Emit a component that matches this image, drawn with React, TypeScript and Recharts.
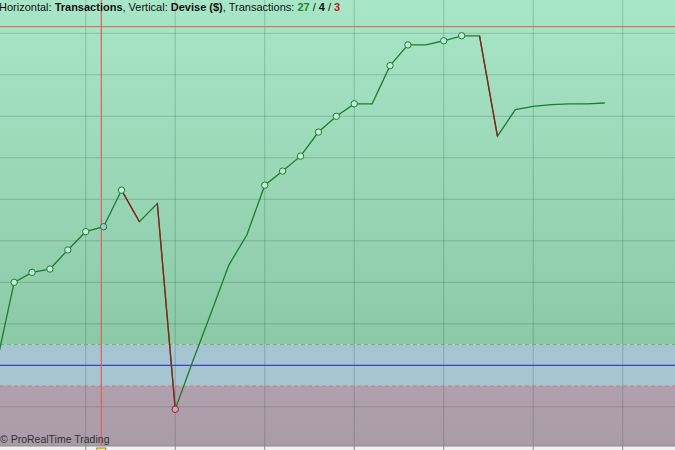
import { ComposedChart, Line, XAxis, YAxis, ReferenceLine, ReferenceArea, ReferenceDot } from 'recharts'

// transaction number on the horizontal axis
const trades = [0, 1, 2, 3, 4, 5, 6, 7, 8, 9, 10, 11, 12, 13, 14, 15, 16, 17, 18, 19, 20, 21, 22, 23, 24, 25, 26, 27, 28, 29, 30, 31, 32, 33, 34]
// equity curve in $
const equity = [
  10000, 11000, 11120, 11160, 11390, 11610, 11670, 12110, 11730, 11950,
  9470, 10060, 10630, 11210, 11570, 12170, 12340, 12520, 12810, 13000,
  13150, 13150, 13610, 13860, 13860, 13910, 13970, 13970, 12760, 13080,
  13120, 13140, 13150, 13150, 13160,
]
// '' = no marker, 'o' = marker, 'sel' = point under the cursor, 'loss' = losing marker
const markers = [
  '', 'o', 'o', 'o', 'o', 'o', 'sel', 'o', '', '',
  'loss', '', '', '', '', 'o', 'o', 'o', 'o', 'o',
  'o', '', 'o', 'o', '', 'o', 'o', '', '', '',
  '', '', '', '', '',
]

const initialCapital = 10000
const upperBand = 10250
const lowerBand = 9750
// cursor crosshair (horizontal level and position on the transaction axis)
const cursorLevel = 14080
const cursorX = 5.87
const xTicks = [5, 10, 15, 20, 25, 30, 35]
const yGrid = [9500, 10000, 10500, 11000, 11500, 12000, 12500, 13000, 13500, 14000]
const xDomain = [0.21, 37.92]
const yDomain = [9028, 14401]

// falling segments are drawn in red, split over two series so they never join
const lossA: (number | null)[] = equity.map(() => null)
const lossB: (number | null)[] = equity.map(() => null)
let k = 0
for (let i = 0; i < equity.length - 1; i++) {
  if (equity[i + 1] < equity[i]) {
    const target = k % 2 === 0 ? lossA : lossB
    target[i] = equity[i]
    target[i + 1] = equity[i + 1]
    k++
  }
}

const data = trades.map((t, i) => ({ t, equity: equity[i], marker: markers[i], lossA: lossA[i], lossB: lossB[i] }))

const GREEN = '#1e7d2c'
const RED = '#951c1c'

const renderDot = (props: any) => {
  const { cx, cy, payload, index } = props
  const m = payload.marker
  if (!m) return <g key={index} />
  let stroke = GREEN
  let fill = '#c4eed8'
  if (m === 'sel') fill = '#a6c4d4'
  if (m === 'loss') {
    stroke = '#a81c24'
    fill = '#c2aebb'
  }
  return <circle key={index} cx={cx} cy={cy} r={3.2} stroke={stroke} strokeWidth={1} fill={fill} />
}

export default function App() {
  return (
    <div style={{ position: 'absolute', left: 0, top: 0, width: 675, height: 450, overflow: 'hidden', background: '#f2f2f2' }}>
      <ComposedChart width={675} height={450} data={data} margin={{ top: 0, right: 0, left: 0, bottom: 0 }}>
        <defs>
          <linearGradient id="gainFill" x1="0" y1="0" x2="0" y2="1">
            <stop offset="0%" stopColor="#a8e6c8" />
            <stop offset="100%" stopColor="#8bc9a7" />
          </linearGradient>
          <linearGradient id="lossFill" x1="0" y1="0" x2="0" y2="1">
            <stop offset="0%" stopColor="#b0a0ad" />
            <stop offset="100%" stopColor="#a99ca8" />
          </linearGradient>
        </defs>
        <XAxis
          dataKey="t"
          type="number"
          domain={xDomain}
          allowDataOverflow
          ticks={xTicks}
          tickFormatter={() => ''}
          tickSize={5}
          height={4}
          axisLine={{ stroke: '#8c8c8c' }}
          tickLine={{ stroke: '#8c8c8c' }}
        />
        <YAxis hide type="number" domain={yDomain} allowDataOverflow />
        <ReferenceArea y1={upperBand} y2={yDomain[1]} fill="url(#gainFill)" fillOpacity={1} stroke="none" />
        <ReferenceArea y1={lowerBand} y2={upperBand} fill="#a4c5d1" fillOpacity={1} stroke="none" />
        <ReferenceArea y1={yDomain[0]} y2={lowerBand} fill="url(#lossFill)" fillOpacity={1} stroke="none" />
        {yGrid.map((v) => (
          <ReferenceLine key={'h' + v} y={v} stroke="#2e4a3c" strokeOpacity={0.24} />
        ))}
        {xTicks.map((v) => (
          <ReferenceLine key={'v' + v} x={v} stroke="#2e4a3c" strokeOpacity={0.24} />
        ))}
        <ReferenceLine y={upperBand} stroke="#6fb46a" strokeDasharray="4 3" />
        <ReferenceLine y={lowerBand} stroke="#d4787a" strokeDasharray="4 3" />
        <ReferenceLine y={initialCapital} stroke="#2233cc" />
        <ReferenceLine y={cursorLevel} stroke="#e25c5c" />
        <ReferenceLine x={cursorX} stroke="#ee5a5a" strokeWidth={1.2} />
        <ReferenceDot
          x={cursorX}
          y={yDomain[0]}
          ifOverflow="visible"
          shape={(p: any) => <rect x={p.cx - 4.5} y={p.cy + 2} width={9} height={6} fill="#f3ef78" stroke="#8d8a3c" strokeWidth={1} />}
        />
        <Line dataKey="equity" stroke={GREEN} strokeWidth={1.3} dot={false} activeDot={false} isAnimationActive={false} type="linear" />
        <Line dataKey="lossA" stroke={RED} strokeWidth={1.3} dot={false} activeDot={false} isAnimationActive={false} type="linear" connectNulls={false} />
        <Line dataKey="lossB" stroke={RED} strokeWidth={1.3} dot={false} activeDot={false} isAnimationActive={false} type="linear" connectNulls={false} />
        <Line dataKey="equity" stroke="none" dot={renderDot} activeDot={false} isAnimationActive={false} type="linear" />
      </ComposedChart>
      <div style={{ position: 'absolute', left: -1, top: 0, fontFamily: '"Liberation Sans", Arial, sans-serif', fontSize: 11, lineHeight: '14px', color: '#111', whiteSpace: 'nowrap' }}>
        Horizontal: <b>Transactions</b>, Vertical: <b>Devise ($)</b>, Transactions: <b style={{ color: '#1b8a1e' }}>27</b> / <b>4</b> / <b style={{ color: '#c01818' }}>3</b>
      </div>
      <div style={{ position: 'absolute', left: 0, top: 432, fontFamily: '"Liberation Sans", Arial, sans-serif', fontSize: 10.5, lineHeight: '14px', color: '#333', whiteSpace: 'nowrap' }}>
        © ProRealTime Trading
      </div>
    </div>
  )
}
